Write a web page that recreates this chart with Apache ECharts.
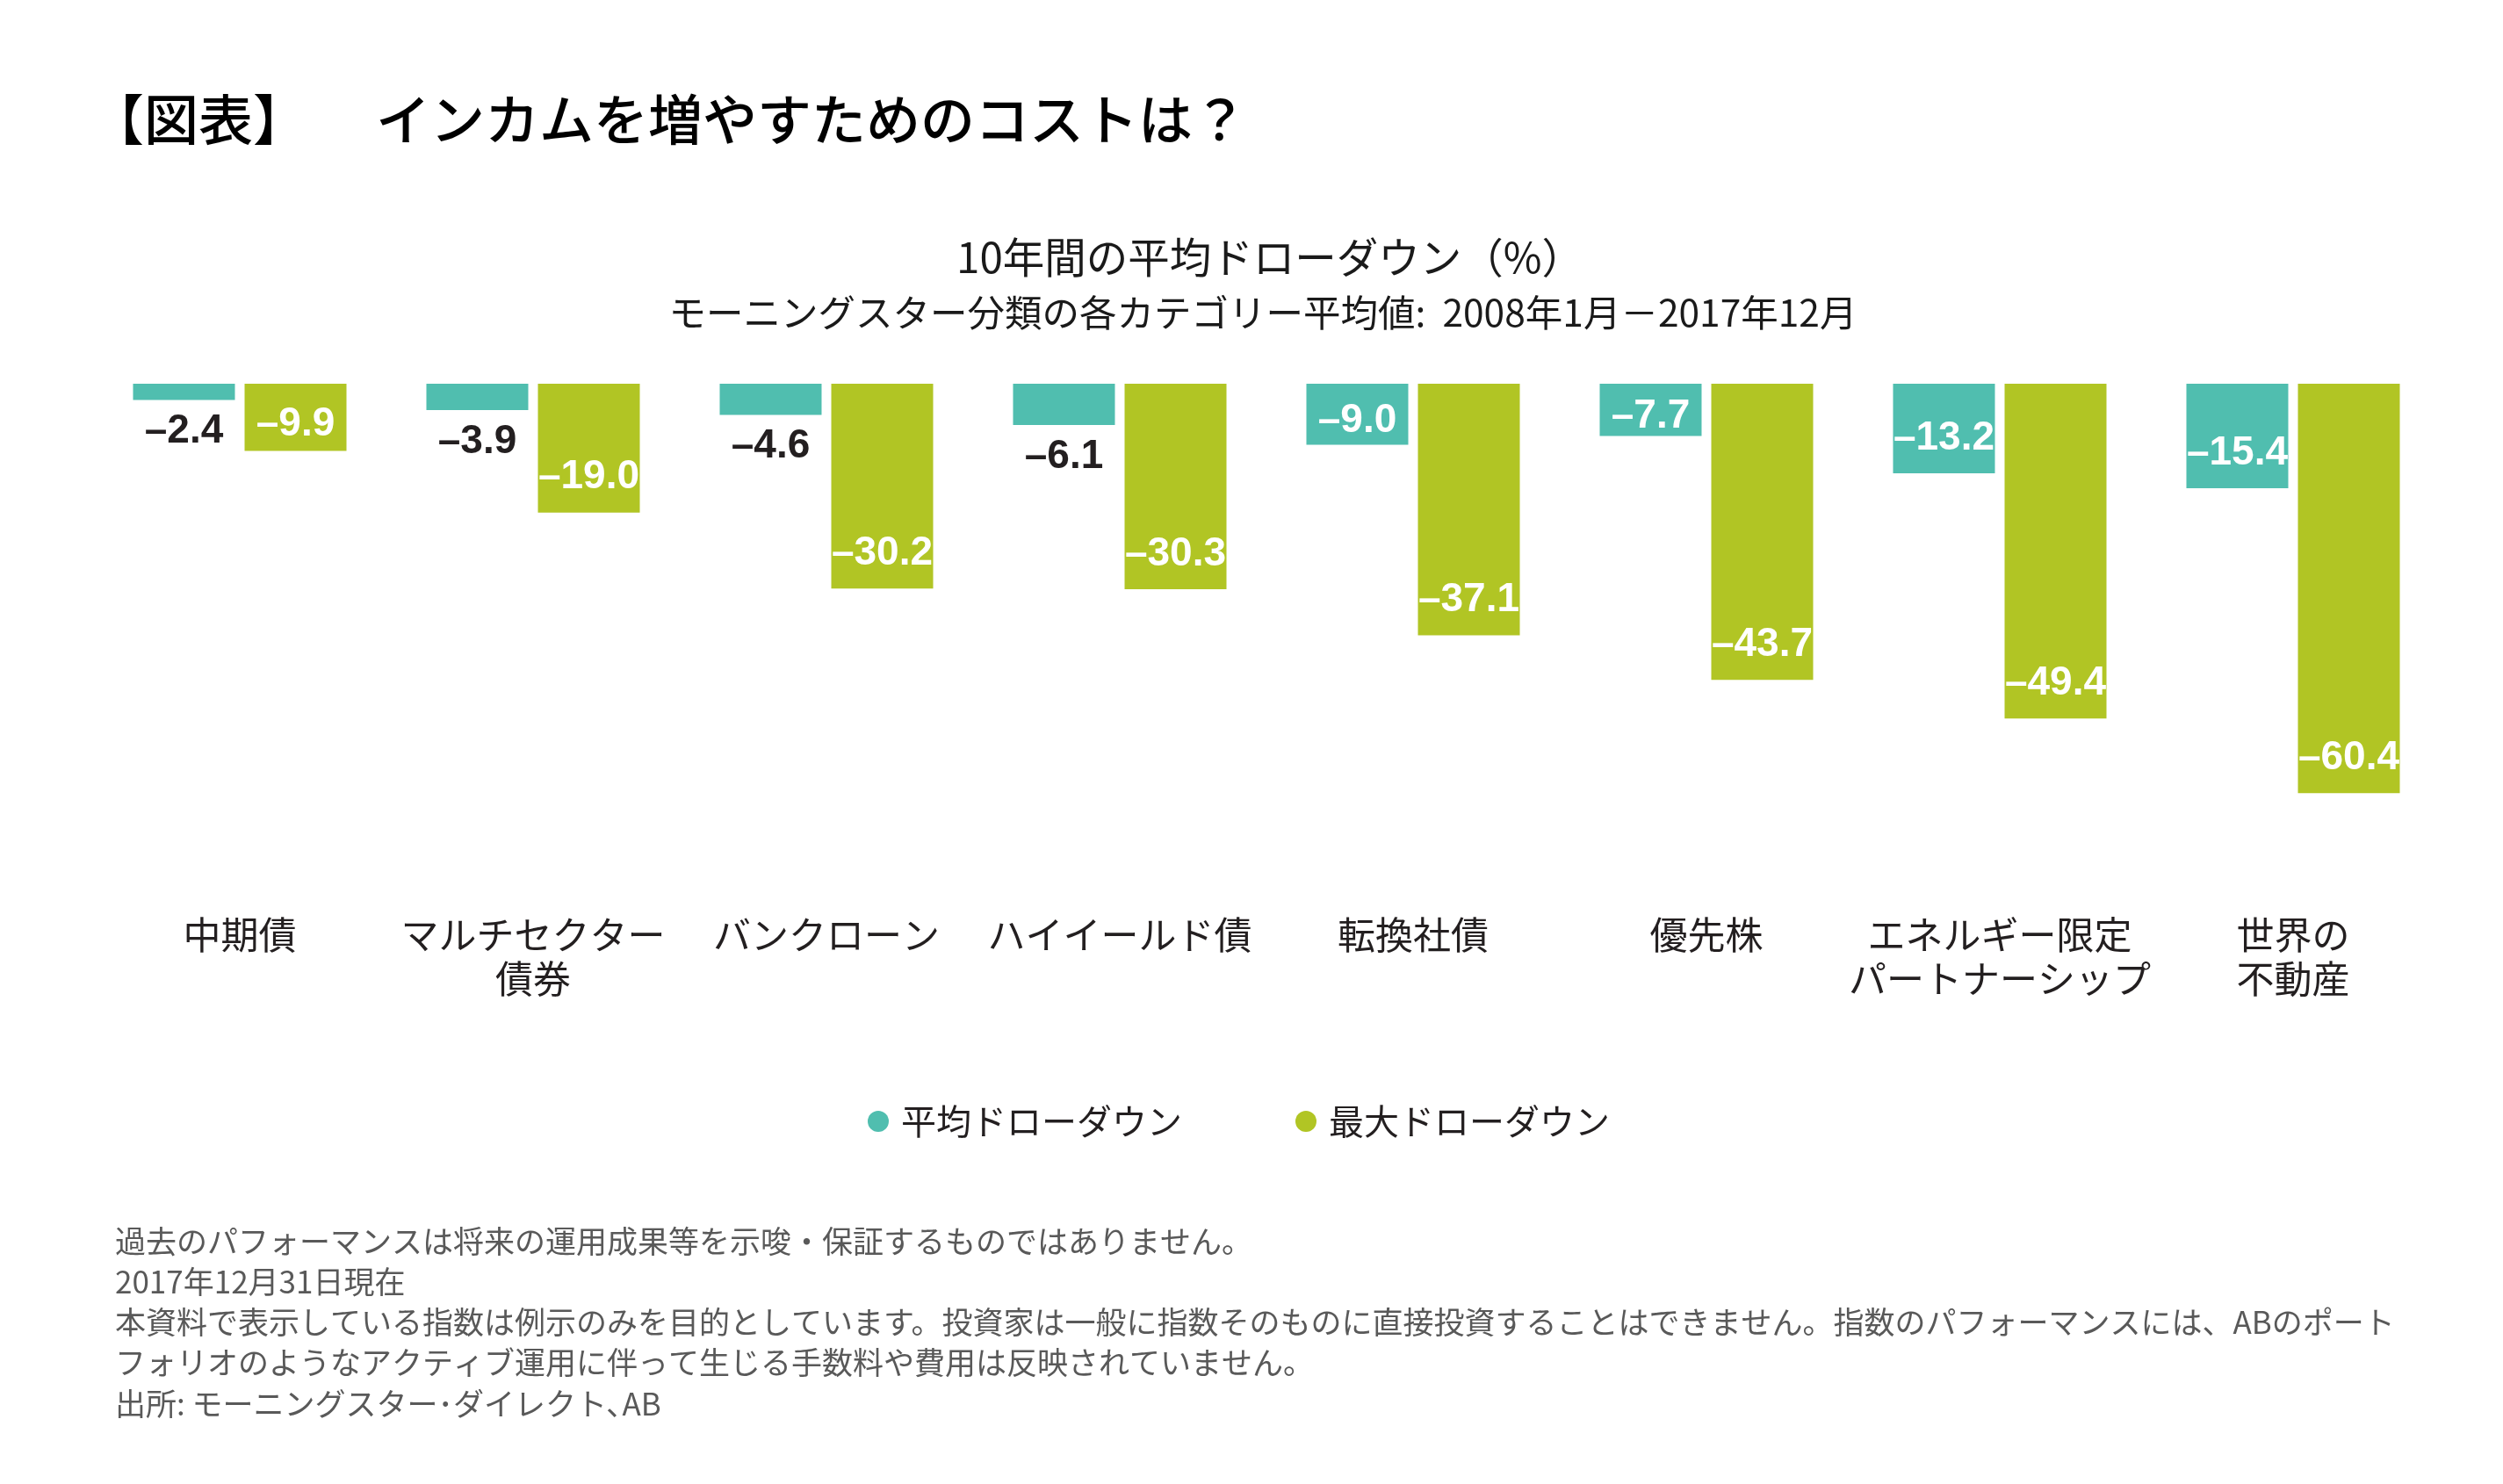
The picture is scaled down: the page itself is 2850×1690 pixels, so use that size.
<!DOCTYPE html>
<html>
<head>
<meta charset="utf-8">
<script src="https://cdn.jsdelivr.net/npm/echarts@6/dist/echarts.min.js"></script>
<style>
html,body{margin:0;padding:0;background:#fff;}
#chart{width:2850px;height:1690px;}
</style>
</head>
<body>
<div id="chart"></div>
<script>
const categories = ['中期債', 'マルチセクター\n債券', 'バンクローン', 'ハイイールド債', '転換社債', '優先株', 'エネルギー限定\nパートナーシップ', '世界の\n不動産'];
const avgDrawdown = [-2.4, -3.9, -4.6, -6.1, -9.0, -7.7, -13.2, -15.4];
const maxDrawdown = [-9.9, -19.0, -30.2, -30.3, -37.1, -43.7, -49.4, -60.4];
const seriesNames = ['平均ドローダウン', '最大ドローダウン'];
const titleLeft = '【図表】';
const titleMain = 'インカムを増やすためのコストは？';
const chartTitle = '10年間の平均ドローダウン（%）';
const chartSubtitle = 'モーニングスター分類の各カテゴリー平均値:  2008年1月－2017年12月';
const footnotes = [
  '過去のパフォーマンスは将来の運用成果等を示唆・保証するものではありません。',
  '2017年12月31日現在',
  '本資料で表示している指数は例示のみを目的としています。投資家は一般に指数そのものに直接投資することはできません。指数のパフォーマンスには、ABのポート',
  'フォリオのようなアクティブ運用に伴って生じる手数料や費用は反映されていません。',
  '出所: モーニングスター･ダイレクト､AB'
];

const TEAL = '#50BEAF';
const GREEN = '#B1C524';
const DARK = '#231F20';
const CJK = '"Noto Sans CJK JP", "Noto Sans", sans-serif';
const NUM = '"Liberation Sans", Arial, sans-serif';

function fmt(v) { return '\u2013' + Math.abs(v).toFixed(1); }

const baseLabel = { show: true, fontFamily: NUM, fontWeight: 'bold', fontSize: 46, lineHeight: 46, formatter: p => fmt(p.value) };

function makeItem(v) {
  const a = Math.abs(v);
  let label;
  if (a < 7) label = Object.assign({}, baseLabel, { position: 'bottom', distance: 13, color: DARK });
  else if (a < 12) label = Object.assign({}, baseLabel, { position: 'inside', offset: [0, 8], color: '#fff' });
  else label = Object.assign({}, baseLabel, { position: 'insideBottom', distance: 17, color: '#fff' });
  return { value: v, label: label };
}

const graphics = [];
function txt(text, x, y, size, color, align, weight) {
  graphics.push({
    type: 'text', x: x, y: y, silent: true,
    style: {
      text: text, fill: color,
      font: (weight || 'normal') + ' ' + size + 'px ' + CJK,
      align: align, verticalAlign: 'middle',
      textAlign: align, textVerticalAlign: 'middle'
    }
  });
}
txt(titleLeft, 102, 136, 62, '#000', 'left', '500');
txt(titleMain, 428, 136, 62, '#000', 'left', '500');
txt(chartTitle, 1446, 293, 47.5, '#1a1a1a', 'center');
txt(chartSubtitle, 1438, 356, 42.5, '#1a1a1a', 'center');
const fy = [1414, 1460, 1506, 1552, 1599];
footnotes.forEach((t, i) => txt(t, 131, fy[i], 35, '#595959', 'left'));

const chart = echarts.init(document.getElementById('chart'), null, { renderer: 'canvas' });
chart.setOption({
  backgroundColor: '#fff',
  animation: false,
  grid: { left: 106, right: 72, top: 437, bottom: 674, containLabel: false },
  xAxis: {
    type: 'category', data: categories,
    axisLine: { show: false }, axisTick: { show: false }, splitLine: { show: false },
    axisLabel: { interval: 0, margin: 24, fontSize: 43, lineHeight: 50, color: DARK, fontFamily: CJK }
  },
  yAxis: { type: 'value', min: -75, max: 0, interval: 25, show: false },
  legend: {
    data: seriesNames, icon: 'circle', itemWidth: 24, itemHeight: 24, itemGap: 129,
    left: 988, top: 1257, padding: 0,
    textStyle: { fontSize: 40, color: DARK, fontFamily: CJK, padding: [0, 0, 0, 9] }
  },
  series: [
    { name: seriesNames[0], type: 'bar', barWidth: 116, barGap: '9.5%', itemStyle: { color: TEAL }, data: avgDrawdown.map(makeItem) },
    { name: seriesNames[1], type: 'bar', barWidth: 116, barGap: '9.5%', itemStyle: { color: GREEN }, data: maxDrawdown.map(makeItem) }
  ],
  graphic: graphics
});
</script>
</body>
</html>
